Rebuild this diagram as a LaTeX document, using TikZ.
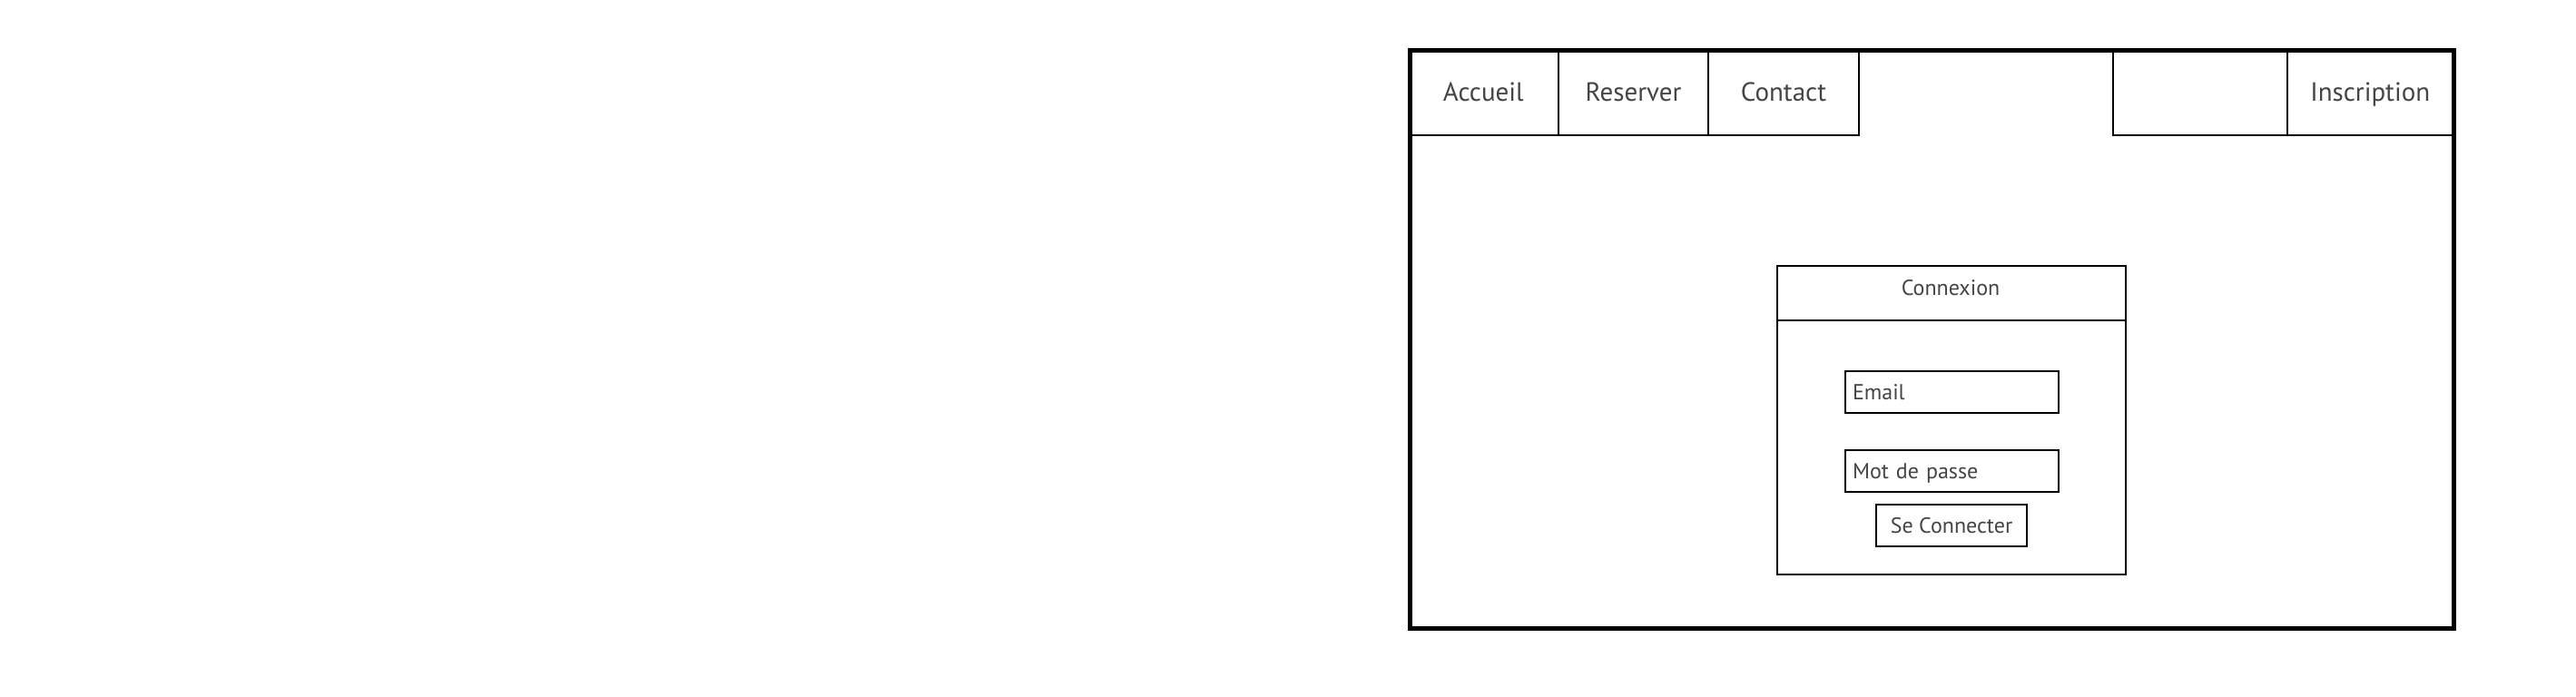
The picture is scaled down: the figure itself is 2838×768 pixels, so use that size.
\documentclass[tikz,border=0pt]{standalone}
\usepackage{fontspec}
\setmainfont{PT Sans}
\definecolor{txtc}{RGB}{68,68,68}
\begin{document}
\begin{tikzpicture}[x=0.25pt,y=-0.25pt,
  thinbox/.style={draw=black, line width=0.5pt, rectangle, inner sep=0pt, anchor=north west},
  bigtxt/.style={font=\fontsize{7.25}{8}\selectfont, text=txtc, text height=5.05pt, text depth=0pt},
  smalltxt/.style={font=\fontsize{6}{7}\selectfont, text=txtc, text height=4.2pt, text depth=0pt},
  framebox/.style={draw=black, line width=1.25pt, rectangle, inner sep=0pt, anchor=north west},
  fieldbox/.style={thinbox, smalltxt, align=left, inner xsep=2pt, text width=54.75pt}
]
\useasboundingbox (0,0) rectangle (2838,768);
% tabs
\node[thinbox, bigtxt, minimum width=165.5*0.25pt, minimum height=94.5*0.25pt] (accueil) at (1550.5,53.5) {Accueil};
\node[thinbox, bigtxt, minimum width=165*0.25pt, minimum height=94.5*0.25pt] (reserver) at (1716,53.5) {Reserver};
\node[thinbox, bigtxt, minimum width=166*0.25pt, minimum height=94.5*0.25pt] (contact) at (1881,53.5) {Contact};
\node[thinbox, minimum width=192*0.25pt, minimum height=94.5*0.25pt] (blank) at (2327,53.5) {};
\node[thinbox, bigtxt, minimum width=182.5*0.25pt, minimum height=94.5*0.25pt] (inscription) at (2519,53.5) {Inscription};
% login panel
\node[thinbox, minimum width=384*0.25pt, minimum height=340*0.25pt] (panel) at (1957,292) {};
\node[thinbox, minimum width=384*0.25pt, minimum height=60*0.25pt] (header) at (1957,292) {};
\node[smalltxt, inner sep=0pt] (title) at (2149,316.7) {Connexion};
\node[fieldbox, minimum height=46*0.25pt] (email) at (2032,408) {Email};
\node[fieldbox, minimum height=46*0.25pt] (pwd) at (2032,495) {Mot de passe};
\node[thinbox, smalltxt, minimum width=166*0.25pt, minimum height=46*0.25pt] (btn) at (2066,555) {Se Connecter};
% outer frame
\node[framebox, minimum width=1150*0.25pt, minimum height=637*0.25pt] (frame) at (1550.5,53.5) {};
\end{tikzpicture}
\end{document}
